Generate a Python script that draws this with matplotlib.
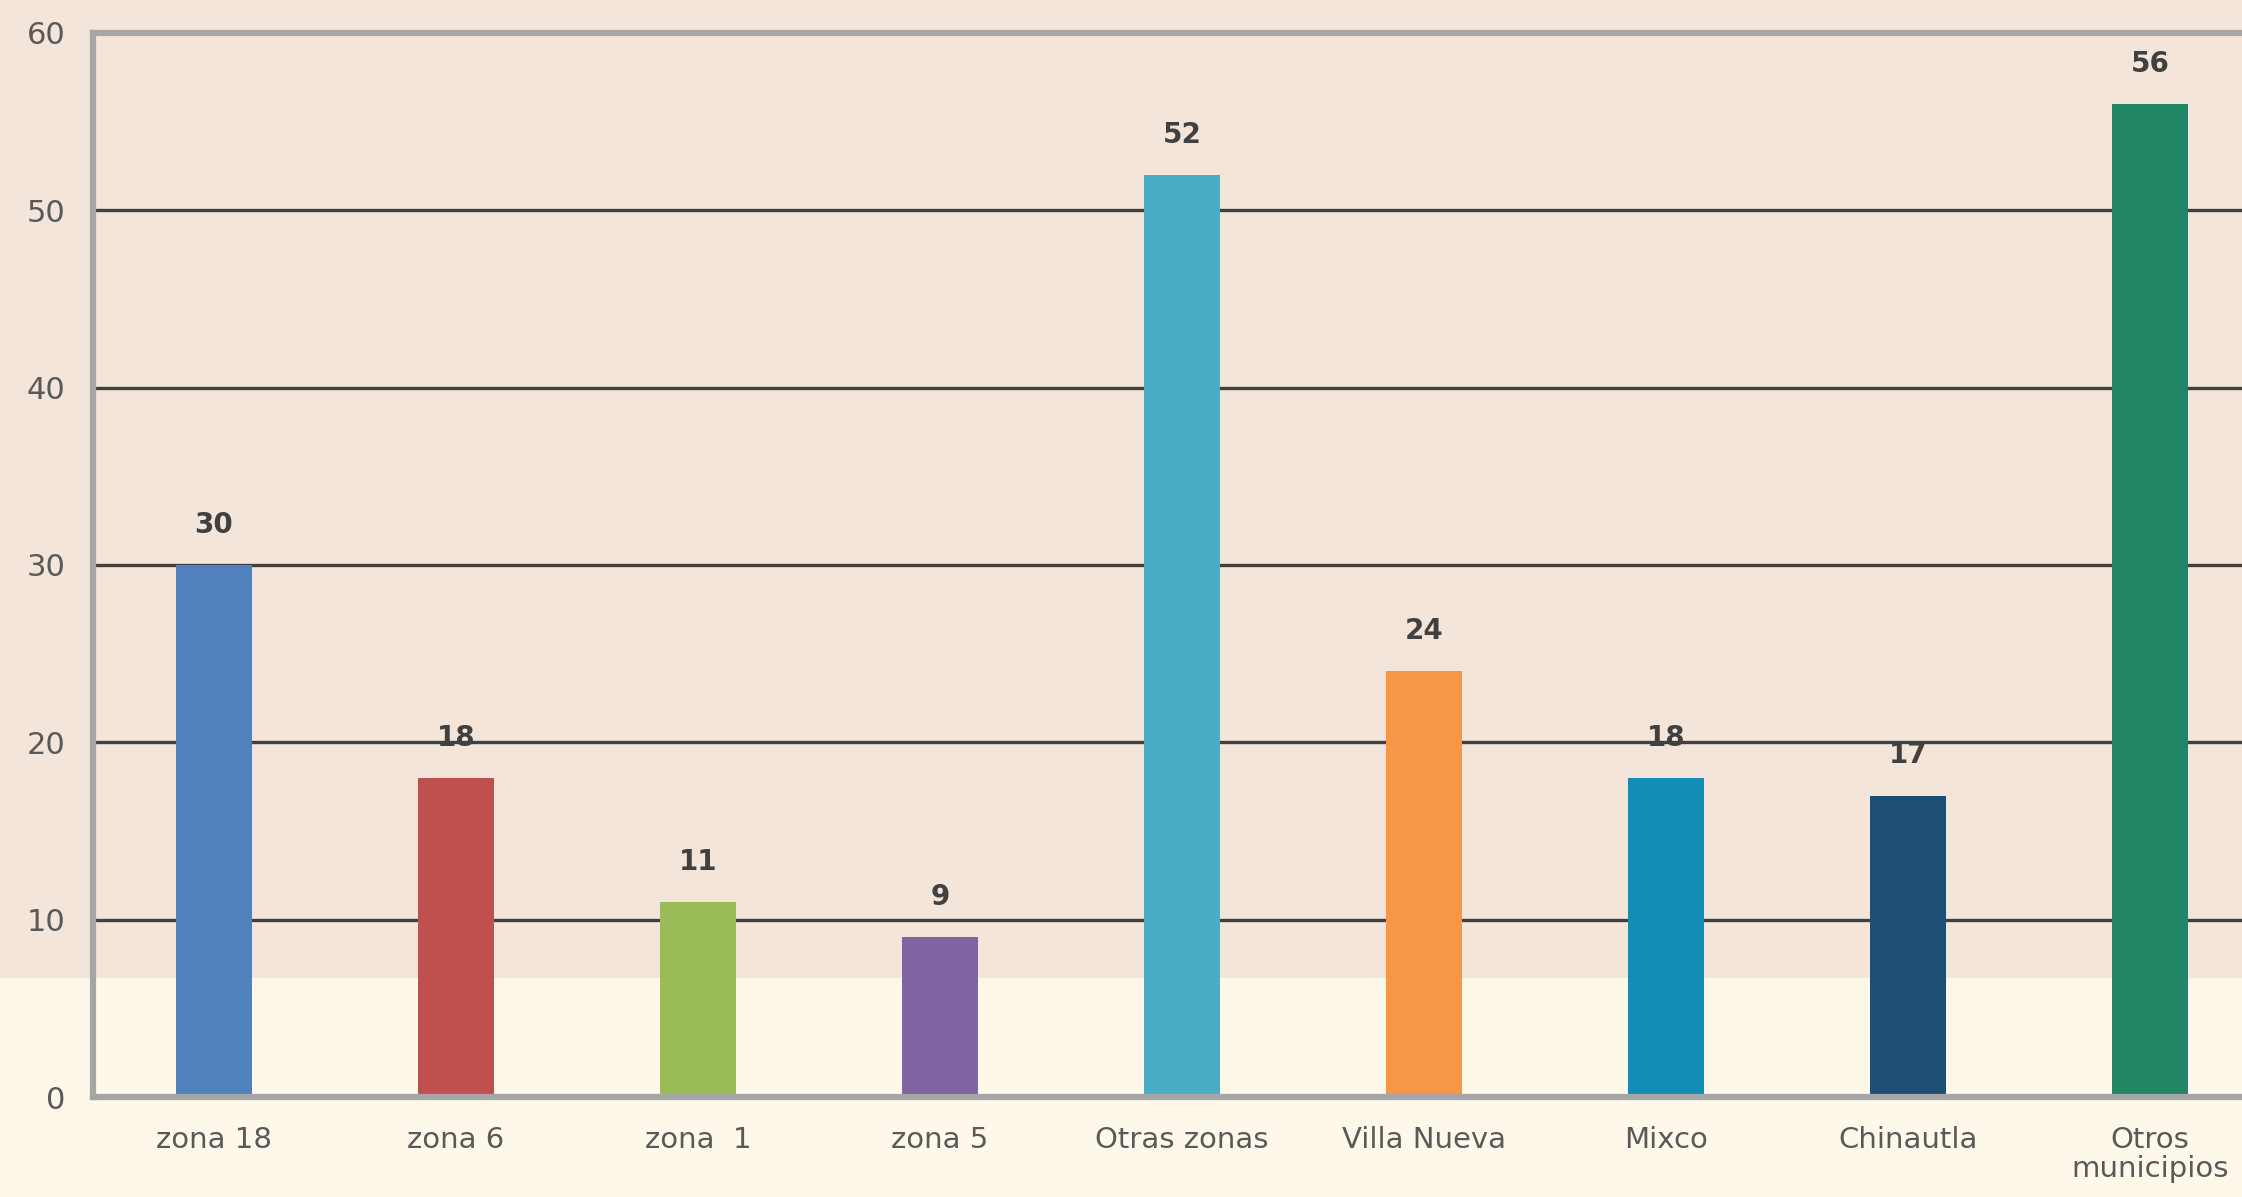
import matplotlib
matplotlib.use("Agg")
import matplotlib.pyplot as plt
from matplotlib.patches import Rectangle

categories = ["zona 18", "zona 6", "zona  1", "zona 5", "Otras zonas",
              "Villa Nueva", "Mixco", "Chinautla", "Otros\nmunicipios"]
values = [30, 18, 11, 9, 52, 24, 18, 17, 56]
colors = ["#4F81BD", "#C0504D", "#9BBB59", "#8064A2", "#4BACC6",
          "#F79646", "#138CB6", "#1D4E74", "#218566"]
yticks = [0, 10, 20, 30, 40, 50, 60]

plt.rcParams['font.family'] = ['DejaVu Sans']

fig = plt.figure(figsize=(22.42, 11.97), dpi=100)
fig.patch.set_facecolor("#FEF8EA")

# background axes with the upper tinted band
bg = fig.add_axes([0, 0, 1, 1], zorder=0)
bg.set_xlim(0, 1)
bg.set_ylim(0, 1)
bg.axis("off")
bg.add_patch(Rectangle((0, 0.183), 1, 0.817, facecolor="#F3E5D9", edgecolor="none"))

ax = fig.add_axes([0.0415, 0.0835, 1.013 - 0.0415, 0.889], zorder=1)
ax.set_facecolor("none")

x = list(range(len(categories)))
ax.bar(x, values, width=0.315, color=colors, zorder=3)

for xi, v in zip(x, values):
    ax.annotate(str(v), (xi, v), xytext=(0, 29), textcoords="offset points",
                ha="center", va="center", fontsize=20, fontweight="semibold",
                color="#404040", zorder=4)

ax.set_xlim(-0.5, 8.5)
ax.set_ylim(0, 60)
ax.set_yticks(yticks)
ax.set_xticks(x)
ax.set_xticklabels(categories, fontsize=21, color="#595959", linespacing=1.05)
ax.tick_params(axis="x", length=0, pad=21)
ax.tick_params(axis="y", length=0, pad=20, labelsize=22, labelcolor="#595959")

ax.grid(axis="y", color="#404040", linewidth=2.4, zorder=1)
ax.set_axisbelow(True)

for side in ["left", "top", "bottom", "right"]:
    ax.spines[side].set_color("#A6A6A6")
    ax.spines[side].set_linewidth(4.5)
    ax.spines[side].set_zorder(5)

fig.savefig("out.png", dpi=100, facecolor=fig.get_facecolor())
